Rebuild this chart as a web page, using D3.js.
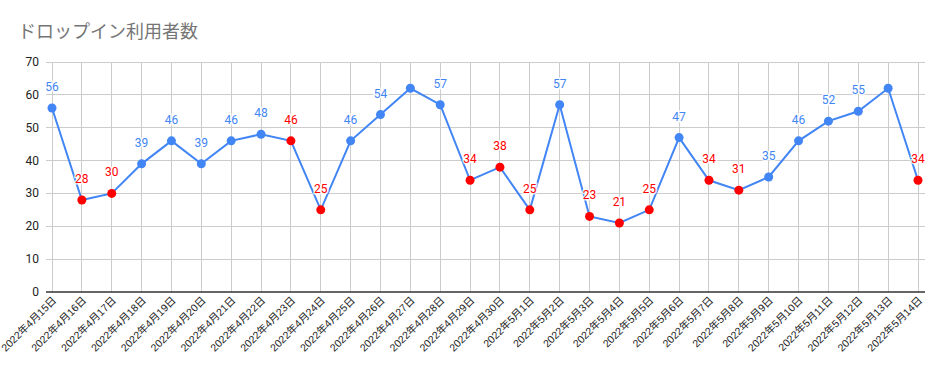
<!DOCTYPE html>
<html><head><meta charset="utf-8">
<script src="https://cdn.jsdelivr.net/npm/d3@7"></script>
<style>body{margin:0;background:#fff;font-family:Roboto,"Noto Sans CJK JP",sans-serif;}</style>
</head><body><svg id="c" width="943" height="371"></svg>
<script>
const title = "ドロップイン利用者数";
const dates = ["2022年4月15日","2022年4月16日","2022年4月17日","2022年4月18日","2022年4月19日","2022年4月20日","2022年4月21日","2022年4月22日","2022年4月23日","2022年4月24日","2022年4月25日","2022年4月26日","2022年4月27日","2022年4月28日","2022年4月29日","2022年4月30日","2022年5月1日","2022年5月2日","2022年5月3日","2022年5月4日","2022年5月5日","2022年5月6日","2022年5月7日","2022年5月8日","2022年5月9日","2022年5月10日","2022年5月11日","2022年5月12日","2022年5月13日","2022年5月14日"];
const values = [56,28,30,39,46,39,46,48,46,25,46,54,62,57,34,38,25,57,23,21,25,47,34,31,35,46,52,55,62,34];
const holiday = [0,1,1,0,0,0,0,0,1,1,0,0,0,0,1,1,1,0,1,1,1,0,1,1,0,0,0,0,0,1];
const showLabel = [1,1,1,1,1,1,1,1,1,1,1,1,0,1,1,1,1,1,1,1,1,1,1,1,1,1,1,1,0,1];
const yTicks = [0,10,20,30,40,50,60,70];

(function(){
const svg = d3.select("#c");
const pL = 46, pR = 925, pT = 62, pB = 292;
const x = d3.scalePoint().domain(dates).range([52, 918]);
const y = d3.scaleLinear().domain([0,70]).range([pB, pT]);
const blue = "#4285F4", red = "#FF0000";
const pts = values.map((v,i)=>({v, i, d: dates[i], h: holiday[i], s: showLabel[i]}));

svg.append("text").attr("x",18).attr("y",38).attr("font-size",18).attr("fill","#757575")
  .attr("font-family","'Noto Sans CJK JP',sans-serif").text(title);

// grid
svg.append("g").selectAll("line").data(yTicks.filter(d=>d>0)).join("line")
  .attr("x1",pL).attr("x2",pR).attr("y1",d=>y(d)).attr("y2",d=>y(d))
  .attr("stroke","#cccccc").attr("stroke-width",1).attr("shape-rendering","crispEdges");
svg.append("g").selectAll("line").data(dates).join("line")
  .attr("x1",d=>x(d)).attr("x2",d=>x(d)).attr("y1",pT).attr("y2",pB)
  .attr("stroke","#cccccc").attr("stroke-width",1).attr("shape-rendering","crispEdges");
svg.append("line").attr("x1",pL).attr("x2",pR).attr("y1",y(0)).attr("y2",y(0))
  .attr("stroke","#333").attr("stroke-width",1.3);

// y labels
svg.append("g").selectAll("text").data(yTicks).join("text")
  .attr("x",39).attr("y",d=>y(d)+4).attr("text-anchor","end")
  .attr("font-size",12).attr("fill","#222").attr("font-family","Roboto,Arial,sans-serif").text(d=>d);

// x labels
svg.append("g").selectAll("text").data(dates).join("text")
  .attr("transform",d=>`translate(${x(d)+5},${y(0)+9}) rotate(-45)`)
  .attr("text-anchor","end").attr("font-size",10.5).attr("fill","#222")
  .attr("font-family","Arial,'Liberation Sans','Noto Sans CJK JP',sans-serif").text(d=>d);

// line
const line = d3.line().x(p=>x(p.d)).y(p=>y(p.v));
svg.append("path").datum(pts).attr("d",line).attr("fill","none")
  .attr("stroke",blue).attr("stroke-width",2);

// points
svg.append("g").selectAll("circle").data(pts).join("circle")
  .attr("cx",p=>x(p.d)).attr("cy",p=>y(p.v)).attr("r",4.5)
  .attr("fill",p=>p.h?red:blue);

// value labels
svg.append("g").selectAll("text").data(pts.filter(p=>p.s)).join("text")
  .attr("x",p=>x(p.d)).attr("y",p=>y(p.v)-17).attr("text-anchor","middle").attr("font-size",12)
  .attr("font-family","Roboto,Arial,sans-serif")
  .attr("stroke","#fff").attr("stroke-width",3).attr("stroke-opacity",0.8).attr("paint-order","stroke")
  .attr("fill",p=>p.h?red:blue).text(p=>p.v);
})();
</script></body></html>
